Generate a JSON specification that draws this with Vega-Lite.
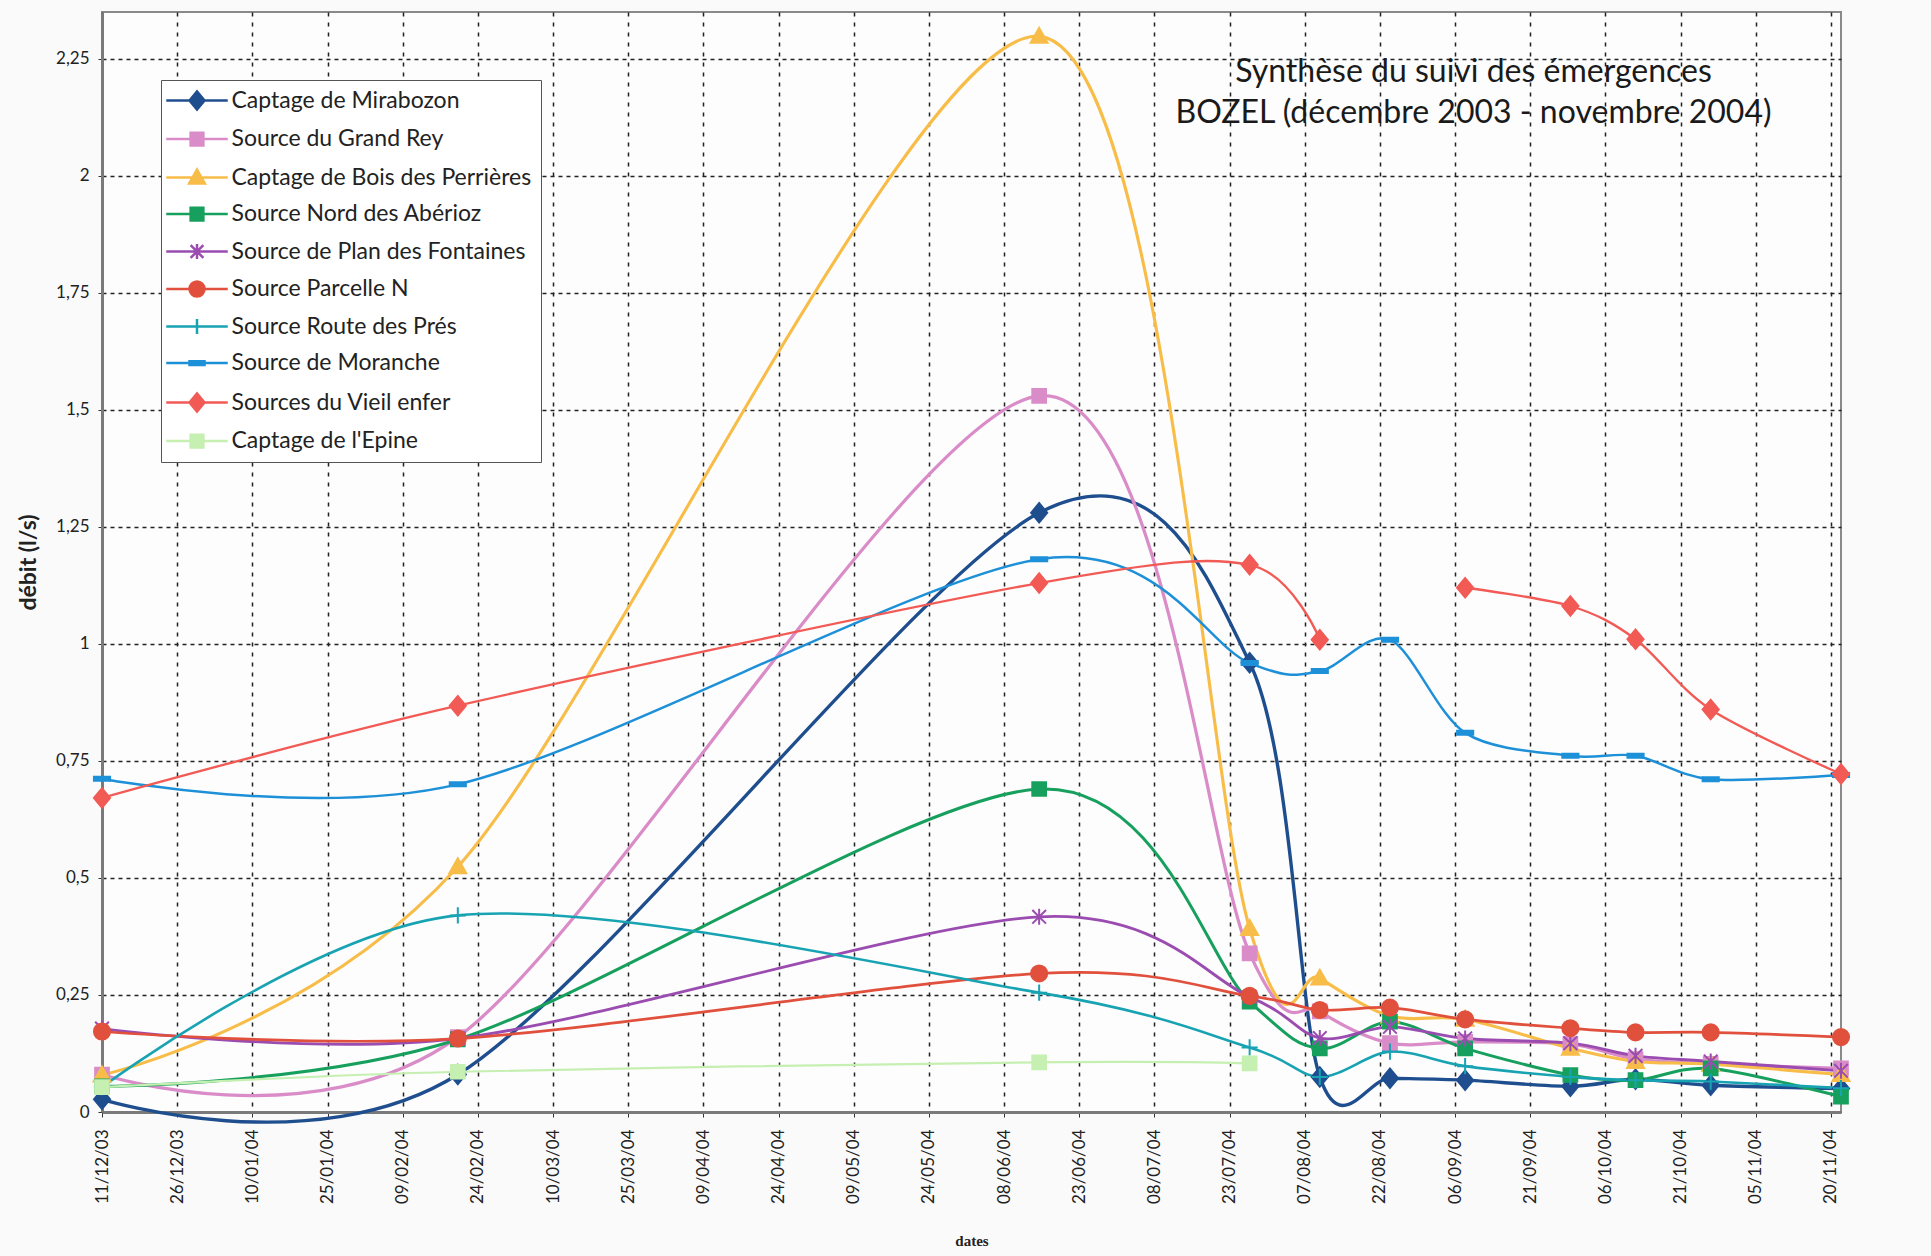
{
  "$schema": "https://vega.github.io/schema/vega-lite/v6.json",
  "autosize": {"type": "none"},
  "width": 1739,
  "height": 1100,
  "padding": {"left": 102, "top": 12, "right": 90, "bottom": 144},
  "background": "#fafafa",
  "title": {
    "text": ["Synthèse du suivi des émergences", "BOZEL  (décembre 2003 - novembre 2004)"],
    "anchor": "middle",
    "frame": "group",
    "font": "Lato",
    "fontSize": 32,
    "fontWeight": "normal",
    "color": "#1a1a1a",
    "lineHeight": 41,
    "baseline": "top",
    "offset": 0,
    "dx": 502,
    "dy": 118
  },
  "config": {
    "view": {"stroke": "#8a8a8a", "strokeWidth": 2, "fill": "#fdfdfd"},
    "axis": {"labelFont": "Lato", "titleFont": "Lato", "labelColor": "#222222", "titleColor": "#222222"},
    "legend": {
      "orient": "none",
      "legendX": 59,
      "legendY": 68,
      "title": null,
      "strokeColor": "#555555",
      "fillColor": "#ffffff",
      "padding": 9,
      "labelFont": "Lato",
      "labelFontSize": 23,
      "labelColor": "#222222",
      "labelLimit": 0,
      "labelOffset": 23,
      "rowPadding": 12.5,
      "symbolSize": 225,
      "symbolOffset": 15.5,
      "symbolStrokeWidth": 2.5,
      "symbolOpacity": 1
    }
  },
  "resolve": {"scale": {"shape": "independent", "fill": "independent", "stroke": "independent"}},
  "data": {
    "values": [
      {"serie": "Captage de Mirabozon", "date": "2003-12-11", "debit": 0.027},
      {"serie": "Captage de Mirabozon", "date": "2004-02-20", "debit": 0.08},
      {"serie": "Captage de Mirabozon", "date": "2004-06-15", "debit": 1.28},
      {"serie": "Captage de Mirabozon", "date": "2004-07-27", "debit": 0.96},
      {"serie": "Captage de Mirabozon", "date": "2004-08-10", "debit": 0.075},
      {"serie": "Captage de Mirabozon", "date": "2004-08-24", "debit": 0.072},
      {"serie": "Captage de Mirabozon", "date": "2004-09-08", "debit": 0.068},
      {"serie": "Captage de Mirabozon", "date": "2004-09-29", "debit": 0.055},
      {"serie": "Captage de Mirabozon", "date": "2004-10-12", "debit": 0.07},
      {"serie": "Captage de Mirabozon", "date": "2004-10-27", "debit": 0.057},
      {"serie": "Captage de Mirabozon", "date": "2004-11-22", "debit": 0.05},

      {"serie": "Source du Grand Rey", "date": "2003-12-11", "debit": 0.08},
      {"serie": "Source du Grand Rey", "date": "2004-02-20", "debit": 0.16},
      {"serie": "Source du Grand Rey", "date": "2004-06-15", "debit": 1.53},
      {"serie": "Source du Grand Rey", "date": "2004-07-27", "debit": 0.339},
      {"serie": "Source du Grand Rey", "date": "2004-08-10", "debit": 0.215},
      {"serie": "Source du Grand Rey", "date": "2004-08-24", "debit": 0.147},
      {"serie": "Source du Grand Rey", "date": "2004-09-08", "debit": 0.15},
      {"serie": "Source du Grand Rey", "date": "2004-09-29", "debit": 0.145},
      {"serie": "Source du Grand Rey", "date": "2004-10-12", "debit": 0.113},
      {"serie": "Source du Grand Rey", "date": "2004-10-27", "debit": 0.103},
      {"serie": "Source du Grand Rey", "date": "2004-11-22", "debit": 0.093},

      {"serie": "Captage de Bois des Perrières", "date": "2003-12-11", "debit": 0.079},
      {"serie": "Captage de Bois des Perrières", "date": "2004-02-20", "debit": 0.524},
      {"serie": "Captage de Bois des Perrières", "date": "2004-06-15", "debit": 2.298},
      {"serie": "Captage de Bois des Perrières", "date": "2004-07-27", "debit": 0.392},
      {"serie": "Captage de Bois des Perrières", "date": "2004-08-10", "debit": 0.286},
      {"serie": "Captage de Bois des Perrières", "date": "2004-08-24", "debit": 0.205},
      {"serie": "Captage de Bois des Perrières", "date": "2004-09-08", "debit": 0.198},
      {"serie": "Captage de Bois des Perrières", "date": "2004-09-29", "debit": 0.136},
      {"serie": "Captage de Bois des Perrières", "date": "2004-10-12", "debit": 0.108},
      {"serie": "Captage de Bois des Perrières", "date": "2004-10-27", "debit": 0.102},
      {"serie": "Captage de Bois des Perrières", "date": "2004-11-22", "debit": 0.08},

      {"serie": "Source Nord des Abérioz", "date": "2003-12-11", "debit": 0.055},
      {"serie": "Source Nord des Abérioz", "date": "2004-02-20", "debit": 0.155},
      {"serie": "Source Nord des Abérioz", "date": "2004-06-15", "debit": 0.69},
      {"serie": "Source Nord des Abérioz", "date": "2004-07-27", "debit": 0.236},
      {"serie": "Source Nord des Abérioz", "date": "2004-08-10", "debit": 0.136},
      {"serie": "Source Nord des Abérioz", "date": "2004-08-24", "debit": 0.193},
      {"serie": "Source Nord des Abérioz", "date": "2004-09-08", "debit": 0.136},
      {"serie": "Source Nord des Abérioz", "date": "2004-09-29", "debit": 0.079},
      {"serie": "Source Nord des Abérioz", "date": "2004-10-12", "debit": 0.068},
      {"serie": "Source Nord des Abérioz", "date": "2004-10-27", "debit": 0.093},
      {"serie": "Source Nord des Abérioz", "date": "2004-11-22", "debit": 0.033},

      {"serie": "Source de Plan des Fontaines", "date": "2003-12-11", "debit": 0.178},
      {"serie": "Source de Plan des Fontaines", "date": "2004-02-20", "debit": 0.157},
      {"serie": "Source de Plan des Fontaines", "date": "2004-06-15", "debit": 0.417},
      {"serie": "Source de Plan des Fontaines", "date": "2004-07-27", "debit": 0.246},
      {"serie": "Source de Plan des Fontaines", "date": "2004-08-10", "debit": 0.158},
      {"serie": "Source de Plan des Fontaines", "date": "2004-08-24", "debit": 0.182},
      {"serie": "Source de Plan des Fontaines", "date": "2004-09-08", "debit": 0.157},
      {"serie": "Source de Plan des Fontaines", "date": "2004-09-29", "debit": 0.147},
      {"serie": "Source de Plan des Fontaines", "date": "2004-10-12", "debit": 0.12},
      {"serie": "Source de Plan des Fontaines", "date": "2004-10-27", "debit": 0.108},
      {"serie": "Source de Plan des Fontaines", "date": "2004-11-22", "debit": 0.088},

      {"serie": "Source Parcelle N", "date": "2003-12-11", "debit": 0.172},
      {"serie": "Source Parcelle N", "date": "2004-02-20", "debit": 0.157},
      {"serie": "Source Parcelle N", "date": "2004-06-15", "debit": 0.296},
      {"serie": "Source Parcelle N", "date": "2004-07-27", "debit": 0.248},
      {"serie": "Source Parcelle N", "date": "2004-08-10", "debit": 0.218},
      {"serie": "Source Parcelle N", "date": "2004-08-24", "debit": 0.223},
      {"serie": "Source Parcelle N", "date": "2004-09-08", "debit": 0.198},
      {"serie": "Source Parcelle N", "date": "2004-09-29", "debit": 0.179},
      {"serie": "Source Parcelle N", "date": "2004-10-12", "debit": 0.17},
      {"serie": "Source Parcelle N", "date": "2004-10-27", "debit": 0.17},
      {"serie": "Source Parcelle N", "date": "2004-11-22", "debit": 0.16},

      {"serie": "Source Route des Prés", "date": "2003-12-11", "debit": 0.053},
      {"serie": "Source Route des Prés", "date": "2004-02-20", "debit": 0.42},
      {"serie": "Source Route des Prés", "date": "2004-06-15", "debit": 0.255},
      {"serie": "Source Route des Prés", "date": "2004-07-27", "debit": 0.138},
      {"serie": "Source Route des Prés", "date": "2004-08-10", "debit": 0.075},
      {"serie": "Source Route des Prés", "date": "2004-08-24", "debit": 0.129},
      {"serie": "Source Route des Prés", "date": "2004-09-08", "debit": 0.098},
      {"serie": "Source Route des Prés", "date": "2004-09-29", "debit": 0.075},
      {"serie": "Source Route des Prés", "date": "2004-10-12", "debit": 0.068},
      {"serie": "Source Route des Prés", "date": "2004-10-27", "debit": 0.065},
      {"serie": "Source Route des Prés", "date": "2004-11-22", "debit": 0.051},

      {"serie": "Source de Moranche", "date": "2003-12-11", "debit": 0.712},
      {"serie": "Source de Moranche", "date": "2004-02-20", "debit": 0.70},
      {"serie": "Source de Moranche", "date": "2004-06-15", "debit": 1.181},
      {"serie": "Source de Moranche", "date": "2004-07-27", "debit": 0.959},
      {"serie": "Source de Moranche", "date": "2004-08-10", "debit": 0.942},
      {"serie": "Source de Moranche", "date": "2004-08-24", "debit": 1.009},
      {"serie": "Source de Moranche", "date": "2004-09-08", "debit": 0.81},
      {"serie": "Source de Moranche", "date": "2004-09-29", "debit": 0.761},
      {"serie": "Source de Moranche", "date": "2004-10-12", "debit": 0.761},
      {"serie": "Source de Moranche", "date": "2004-10-27", "debit": 0.711},
      {"serie": "Source de Moranche", "date": "2004-11-22", "debit": 0.72},

      {"serie": "Sources du Vieil enfer", "date": "2003-12-11", "debit": 0.671},
      {"serie": "Sources du Vieil enfer", "date": "2004-02-20", "debit": 0.868},
      {"serie": "Sources du Vieil enfer", "date": "2004-06-15", "debit": 1.13},
      {"serie": "Sources du Vieil enfer", "date": "2004-07-27", "debit": 1.169},
      {"serie": "Sources du Vieil enfer", "date": "2004-08-10", "debit": 1.009},
      {"serie": "Sources du Vieil enfer", "date": "2004-08-24", "debit": null},
      {"serie": "Sources du Vieil enfer", "date": "2004-09-08", "debit": 1.12},
      {"serie": "Sources du Vieil enfer", "date": "2004-09-29", "debit": 1.081},
      {"serie": "Sources du Vieil enfer", "date": "2004-10-12", "debit": 1.01},
      {"serie": "Sources du Vieil enfer", "date": "2004-10-27", "debit": 0.86},
      {"serie": "Sources du Vieil enfer", "date": "2004-11-22", "debit": 0.722},

      {"serie": "Captage de l'Epine", "date": "2003-12-11", "debit": 0.053},
      {"serie": "Captage de l'Epine", "date": "2004-02-20", "debit": 0.086},
      {"serie": "Captage de l'Epine", "date": "2004-06-15", "debit": 0.106},
      {"serie": "Captage de l'Epine", "date": "2004-07-27", "debit": 0.104}
    ]
  },
  "encoding": {
    "x": {
      "field": "date",
      "type": "temporal",
      "scale": {
        "type": "utc",
        "domain": [
          {"year": 2003, "month": 12, "date": 11, "utc": true},
          {"year": 2004, "month": 11, "date": 22, "utc": true}
        ]
      },
      "axis": {
        "values": [
          {"year": 2003, "month": 12, "date": 11, "utc": true},
          {"year": 2003, "month": 12, "date": 26, "utc": true},
          {"year": 2004, "month": 1, "date": 10, "utc": true},
          {"year": 2004, "month": 1, "date": 25, "utc": true},
          {"year": 2004, "month": 2, "date": 9, "utc": true},
          {"year": 2004, "month": 2, "date": 24, "utc": true},
          {"year": 2004, "month": 3, "date": 10, "utc": true},
          {"year": 2004, "month": 3, "date": 25, "utc": true},
          {"year": 2004, "month": 4, "date": 9, "utc": true},
          {"year": 2004, "month": 4, "date": 24, "utc": true},
          {"year": 2004, "month": 5, "date": 9, "utc": true},
          {"year": 2004, "month": 5, "date": 24, "utc": true},
          {"year": 2004, "month": 6, "date": 8, "utc": true},
          {"year": 2004, "month": 6, "date": 23, "utc": true},
          {"year": 2004, "month": 7, "date": 8, "utc": true},
          {"year": 2004, "month": 7, "date": 23, "utc": true},
          {"year": 2004, "month": 8, "date": 7, "utc": true},
          {"year": 2004, "month": 8, "date": 22, "utc": true},
          {"year": 2004, "month": 9, "date": 6, "utc": true},
          {"year": 2004, "month": 9, "date": 21, "utc": true},
          {"year": 2004, "month": 10, "date": 6, "utc": true},
          {"year": 2004, "month": 10, "date": 21, "utc": true},
          {"year": 2004, "month": 11, "date": 5, "utc": true},
          {"year": 2004, "month": 11, "date": 20, "utc": true}
        ],
        "format": "%d/%m/%y",
        "labelAngle": -90,
        "labelAlign": "right",
        "labelBaseline": "middle",
        "labelFontSize": 17,
        "labelPadding": 12,
        "labelOverlap": false,
        "tickSize": 5,
        "tickColor": "#333333",
        "domainColor": "#7a7a7a",
        "domainWidth": 3,
        "grid": true,
        "gridColor": "#222222",
        "gridWidth": 1.5,
        "gridDash": [4, 6],
        "title": "dates",
        "titleFont": "Liberation Serif",
        "titleFontSize": 15,
        "titleFontWeight": "bold",
        "titlePadding": 30
      }
    },
    "y": {
      "field": "debit",
      "type": "quantitative",
      "scale": {"domain": [0, 2.35], "nice": false, "zero": true},
      "axis": {
        "values": [0, 0.25, 0.5, 0.75, 1, 1.25, 1.5, 1.75, 2, 2.25],
        "labelExpr": "replace(toString(datum.value), '.', ',')",
        "labelFontSize": 17,
        "labelPadding": 9,
        "tickSize": 4,
        "tickColor": "#333333",
        "domainColor": "#7a7a7a",
        "domainWidth": 3,
        "grid": true,
        "gridColor": "#222222",
        "gridWidth": 1.5,
        "gridDash": [4, 4],
        "title": "débit (l/s)",
        "titleFontSize": 23,
        "titleFontWeight": "bold",
        "titlePadding": 15
      }
    }
  },
  "layer": [
    {
      "mark": {"type": "line", "interpolate": "cardinal", "tension": 0.08},
      "encoding": {
        "color": {
          "field": "serie",
          "type": "nominal",
          "scale": {
            "domain": ["Captage de Mirabozon", "Source du Grand Rey", "Captage de Bois des Perrières", "Source Nord des Abérioz", "Source de Plan des Fontaines", "Source Parcelle N", "Source Route des Prés", "Source de Moranche", "Sources du Vieil enfer", "Captage de l'Epine"],
            "range": ["#1f4e8f", "#d98cc8", "#f8bd48", "#17a05d", "#9b4cb0", "#e0503c", "#18a3b3", "#1d90d8", "#f25a55", "#c6efb2"]
          },
          "legend": null
        },
        "strokeWidth": {
          "field": "serie",
          "type": "nominal",
          "scale": {
            "domain": ["Captage de Mirabozon", "Source du Grand Rey", "Captage de Bois des Perrières", "Source Nord des Abérioz", "Source de Plan des Fontaines", "Source Parcelle N", "Source Route des Prés", "Source de Moranche", "Sources du Vieil enfer", "Captage de l'Epine"],
            "range": [3.4, 2.2, 2.5, 3, 3, 3.4, 3, 3.2, 3, 2.6]
          },
          "legend": null
        }
      }
    },
    {
      "mark": {"type": "point", "filled": true, "size": 260, "strokeWidth": 2, "opacity": 1},
      "encoding": {
        "fill": {
          "field": "serie",
          "type": "nominal",
          "scale": {
            "domain": ["Captage de Mirabozon", "Source du Grand Rey", "Captage de Bois des Perrières", "Source Nord des Abérioz", "Source de Plan des Fontaines", "Source Parcelle N", "Source Route des Prés", "Source de Moranche", "Sources du Vieil enfer", "Captage de l'Epine"],
            "range": ["#1f4e8f", "#d98cc8", "#f8bd48", "#17a05d", "#9b4cb0", "#e0503c", "#18a3b3", "#1d90d8", "#f25a55", "#c6efb2"]
          },
          "legend": null
        },
        "stroke": {
          "field": "serie",
          "type": "nominal",
          "scale": {
            "domain": ["Captage de Mirabozon", "Source du Grand Rey", "Captage de Bois des Perrières", "Source Nord des Abérioz", "Source de Plan des Fontaines", "Source Parcelle N", "Source Route des Prés", "Source de Moranche", "Sources du Vieil enfer", "Captage de l'Epine"],
            "range": ["#1f4e8f", "#d98cc8", "#f8bd48", "#17a05d", "#9b4cb0", "#e0503c", "#18a3b3", "#1d90d8", "#f25a55", "#c6efb2"]
          },
          "legend": null
        },
        "shape": {
          "field": "serie",
          "type": "nominal",
          "scale": {
            "domain": ["Captage de Mirabozon", "Source du Grand Rey", "Captage de Bois des Perrières", "Source Nord des Abérioz", "Source de Plan des Fontaines", "Source Parcelle N", "Source Route des Prés", "Source de Moranche", "Sources du Vieil enfer", "Captage de l'Epine"],
            "range": ["M-1,0L0,-1.2L1,0L0,1.2Z", "M-0.85,-0.85L0.85,-0.85L0.85,0.85L-0.85,0.85Z", "M0,-1.05L1.05,0.8L-1.05,0.8Z", "M-0.85,-0.85L0.85,-0.85L0.85,0.85L-0.85,0.85Z", "M0,-1L0,1M-0.85,-0.85L0.85,0.85M-0.85,0.85L0.85,-0.85", "M-1,0A1,1,0,1,0,1,0A1,1,0,1,0,-1,0Z", "M-1,0L1,0M0,-1L0,1", "M-1,-0.25L1,-0.25L1,0.25L-1,0.25Z", "M-1,0L0,-1.2L1,0L0,1.2Z", "M-0.85,-0.85L0.85,-0.85L0.85,0.85L-0.85,0.85Z"]
          },
          "legend": null
        }
      }
    },
    {
      "mark": {"type": "point", "filled": true, "size": 10, "opacity": 0},
      "encoding": {
        "fill": {
          "field": "serie",
          "type": "nominal",
          "scale": {
            "domain": ["Captage de Mirabozon", "Source du Grand Rey", "Captage de Bois des Perrières", "Source Nord des Abérioz", "Source de Plan des Fontaines", "Source Parcelle N", "Source Route des Prés", "Source de Moranche", "Sources du Vieil enfer", "Captage de l'Epine"],
            "range": ["#1f4e8f", "#d98cc8", "#f8bd48", "#17a05d", "#9b4cb0", "#e0503c", "#18a3b3", "#1d90d8", "#f25a55", "#c6efb2"]
          }
        },
        "stroke": {
          "field": "serie",
          "type": "nominal",
          "scale": {
            "domain": ["Captage de Mirabozon", "Source du Grand Rey", "Captage de Bois des Perrières", "Source Nord des Abérioz", "Source de Plan des Fontaines", "Source Parcelle N", "Source Route des Prés", "Source de Moranche", "Sources du Vieil enfer", "Captage de l'Epine"],
            "range": ["#1f4e8f", "#d98cc8", "#f8bd48", "#17a05d", "#9b4cb0", "#e0503c", "#18a3b3", "#1d90d8", "#f25a55", "#c6efb2"]
          }
        },
        "shape": {
          "field": "serie",
          "type": "nominal",
          "scale": {
            "domain": ["Captage de Mirabozon", "Source du Grand Rey", "Captage de Bois des Perrières", "Source Nord des Abérioz", "Source de Plan des Fontaines", "Source Parcelle N", "Source Route des Prés", "Source de Moranche", "Sources du Vieil enfer", "Captage de l'Epine"],
            "range": ["M-4.1,0L4.1,0M-1,0L0,-1.2L1,0L0,1.2Z", "M-4.1,0L4.1,0M-0.85,-0.85L0.85,-0.85L0.85,0.85L-0.85,0.85Z", "M-4.1,0L4.1,0M0,-1.05L1.05,0.8L-1.05,0.8Z", "M-4.1,0L4.1,0M-0.85,-0.85L0.85,-0.85L0.85,0.85L-0.85,0.85Z", "M-4.1,0L4.1,0M0,-1L0,1M-0.85,-0.85L0.85,0.85M-0.85,0.85L0.85,-0.85", "M-4.1,0L4.1,0M-1,0A1,1,0,1,0,1,0A1,1,0,1,0,-1,0Z", "M-4.1,0L4.1,0M0,-1L0,1", "M-4.1,0L4.1,0M-1,-0.25L1,-0.25L1,0.25L-1,0.25Z", "M-4.1,0L4.1,0M-1,0L0,-1.2L1,0L0,1.2Z", "M-4.1,0L4.1,0M-0.85,-0.85L0.85,-0.85L0.85,0.85L-0.85,0.85Z"]
          }
        }
      }
    }
  ]
}
